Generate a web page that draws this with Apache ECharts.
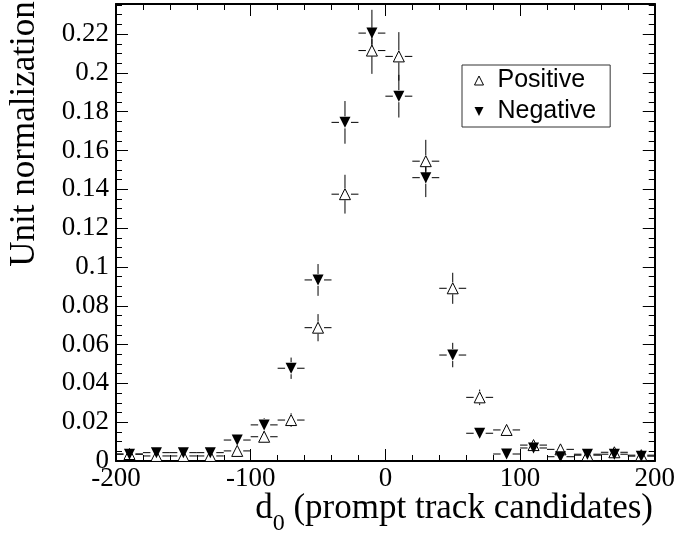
<!DOCTYPE html>
<html>
<head>
<meta charset="utf-8">
<script src="https://cdn.jsdelivr.net/npm/echarts@6/dist/echarts.min.js"></script>
<style>
  html, body { margin: 0; padding: 0; background: #fff; }
  #chart { width: 678px; height: 538px; }
</style>
</head>
<body>
<div id="chart"></div>
<script>
// bin centres of d0 (width 20)
var binCenters = [-190, -170, -150, -130, -110, -90, -70, -50, -30, -10,
                  10, 30, 50, 70, 90, 110, 130, 150, 170, 190];
var binHalfWidth = 10;

var posValues = [0.0036, 0.0026, 0.0026, 0.0026, 0.0052, 0.0125, 0.0211, 0.0687, 0.1375, 0.2115,
                 0.2085, 0.1545, 0.0890, 0.0328, 0.0160, 0.0082, 0.0060, 0.0030, 0.0045, 0.0030];
var posErrors = [0.0015, 0.0013, 0.0013, 0.0013, 0.0020, 0.0030, 0.0035, 0.0070, 0.0100, 0.0120,
                 0.0125, 0.0110, 0.0080, 0.0040, 0.0030, 0.0022, 0.0020, 0.0013, 0.0017, 0.0013];

var negValues = [0.0035, 0.0043, 0.0043, 0.0043, 0.0108, 0.0186, 0.0478, 0.0933, 0.1745, 0.2205,
                 0.1880, 0.1460, 0.0546, 0.0143, 0.0036, 0.0067, 0.0022, 0.0035, 0.0035, 0.0025];
var negErrors = [0.0015, 0.0017, 0.0017, 0.0017, 0.0027, 0.0035, 0.0055, 0.0082, 0.0110, 0.0120,
                 0.0110, 0.0100, 0.0063, 0.0030, 0.0015, 0.0020, 0.0012, 0.0015, 0.0015, 0.0013];

var xTicks = { min: -200, max: 200, interval: 100 };
var yTicks = { min: 0, max: 0.2355, interval: 0.02, minor: 0.005 };

var serif = '"Liberation Serif", "Times New Roman", serif';
var sans = '"Liberation Sans", Arial, sans-serif';

var chart = echarts.init(document.getElementById('chart'));

function toPoints(values, errors) {
    return binCenters.map(function (c, i) { return [c, values[i], errors[i]]; });
}

// error bars drawn like ROOT: gap around the marker
function errorBars(name, values, errors) {
    return {
        name: name,
        type: 'custom',
        xAxisIndex: 0,
        yAxisIndex: 0,
        clip: true,
        z: 2,
        data: toPoints(values, errors),
        renderItem: function (params, api) {
            var x = api.value(0), y = api.value(1), e = api.value(2);
            var p = api.coord([x, y]);
            var l = api.coord([x - binHalfWidth, y]);
            var r = api.coord([x + binHalfWidth, y]);
            var t = api.coord([x, y + e]);
            var b = api.coord([x, y - e]);
            var gap = 6;
            var st = { stroke: '#000', lineWidth: 1 };
            var kids = [];
            var line = function (x1, y1, x2, y2) {
                kids.push({ type: 'line', shape: { x1: x1, y1: y1, x2: x2, y2: y2 }, style: st });
            };
            if (p[0] - l[0] > gap) line(l[0], p[1], p[0] - gap, p[1]);
            if (r[0] - p[0] > gap) line(p[0] + gap, p[1], r[0], p[1]);
            if (p[1] - t[1] > gap) line(p[0], t[1], p[0], p[1] - gap);
            if (b[1] - p[1] > gap) line(p[0], p[1] + gap, p[0], b[1]);
            return { type: 'group', children: kids };
        }
    };
}

var axisLineStyle = { color: '#000', width: 2 };
var tickStyle = { color: '#000', width: 1 };

function xAxisDef(pos, showLabel) {
    return {
        type: 'value',
        position: pos,
        min: xTicks.min,
        max: xTicks.max,
        interval: xTicks.interval,
        axisLine: { show: true, onZero: false, lineStyle: axisLineStyle },
        axisTick: { show: true, inside: true, length: 12, lineStyle: tickStyle },
        minorTick: { show: true, splitNumber: 5, length: 6, lineStyle: tickStyle },
        axisLabel: { show: showLabel, color: '#000', fontFamily: serif, fontSize: 27, margin: 4 },
        splitLine: { show: false }
    };
}

function yAxisDef(pos, major) {
    return {
        type: 'value',
        position: pos,
        min: yTicks.min,
        max: yTicks.max,
        interval: major ? yTicks.interval : yTicks.minor,
        axisLine: { show: major, onZero: false, lineStyle: axisLineStyle },
        axisTick: { show: true, inside: true, length: major ? 12 : 6, lineStyle: tickStyle },
        axisLabel: {
            show: major && pos === 'left',
            showMaxLabel: false,
            color: '#000', fontFamily: serif, fontSize: 27, margin: 7
        },
        splitLine: { show: false }
    };
}

// axis title pieces (d with subscript 0)
var ctx = document.createElement('canvas').getContext('2d');
var titleRight = 653;
var restText = ' (prompt track candidates)';
ctx.font = '35px ' + serif;
var restW = ctx.measureText(restText).width;
ctx.font = '24px ' + serif;
var subW = ctx.measureText('0').width;

chart.setOption({
    animation: false,
    backgroundColor: '#fff',
    grid: { left: 116, right: 23, top: 4, bottom: 77, containLabel: false },
    xAxis: [xAxisDef('bottom', true), xAxisDef('top', false)],
    yAxis: [yAxisDef('left', true), yAxisDef('left', false), yAxisDef('right', true), yAxisDef('right', false)],
    legend: {
        left: 462,
        top: 65,
        orient: 'vertical',
        padding: [3, 14, 3, 12],
        itemGap: 6,
        itemWidth: 19,
        itemHeight: 9,
        borderColor: '#333',
        borderWidth: 1,
        borderRadius: 0,
        backgroundColor: '#fff',
        textStyle: { fontFamily: sans, fontSize: 25, color: '#000', padding: [0, 0, 0, 4] },
        data: [
            { name: 'Positive', icon: 'path://M5,0L10,10L0,10Z', itemStyle: { color: '#fff', borderColor: '#000', borderWidth: 1 } },
            { name: 'Negative', icon: 'path://M0,0L10,0L5,10Z', itemStyle: { color: '#000', borderWidth: 0 } }
        ]
    },
    graphic: [
        {
            type: 'text', x: 25, y: 134, rotation: Math.PI / 2,
            style: { text: 'Unit normalization', font: '35px ' + serif, fill: '#000',
                     textAlign: 'center', textVerticalAlign: 'middle' }
        },
        {
            type: 'text', x: titleRight, y: 509,
            style: { text: restText, font: '35px ' + serif, fill: '#000',
                     textAlign: 'right', textVerticalAlign: 'middle' }
        },
        {
            type: 'text', x: titleRight - restW, y: 524,
            style: { text: '0', font: '24px ' + serif, fill: '#000',
                     textAlign: 'right', textVerticalAlign: 'middle' }
        },
        {
            type: 'text', x: titleRight - restW - subW, y: 509,
            style: { text: 'd', font: '35px ' + serif, fill: '#000',
                     textAlign: 'right', textVerticalAlign: 'middle' }
        }
    ],
    series: [
        errorBars('Positive', posValues, posErrors),
        errorBars('Negative', negValues, negErrors),
        {
            name: 'Positive',
            type: 'scatter',
            xAxisIndex: 0, yAxisIndex: 0,
            symbol: 'triangle',
            symbolSize: 11,
            z: 3,
            itemStyle: { color: '#fff', borderColor: '#000', borderWidth: 1, opacity: 1 },
            data: toPoints(posValues, posErrors)
        },
        {
            name: 'Negative',
            type: 'scatter',
            xAxisIndex: 0, yAxisIndex: 0,
            symbol: 'triangle',
            symbolRotate: 180,
            symbolSize: 11,
            z: 4,
            itemStyle: { color: '#000', opacity: 1 },
            data: toPoints(negValues, negErrors)
        }
    ]
});
</script>
</body>
</html>
